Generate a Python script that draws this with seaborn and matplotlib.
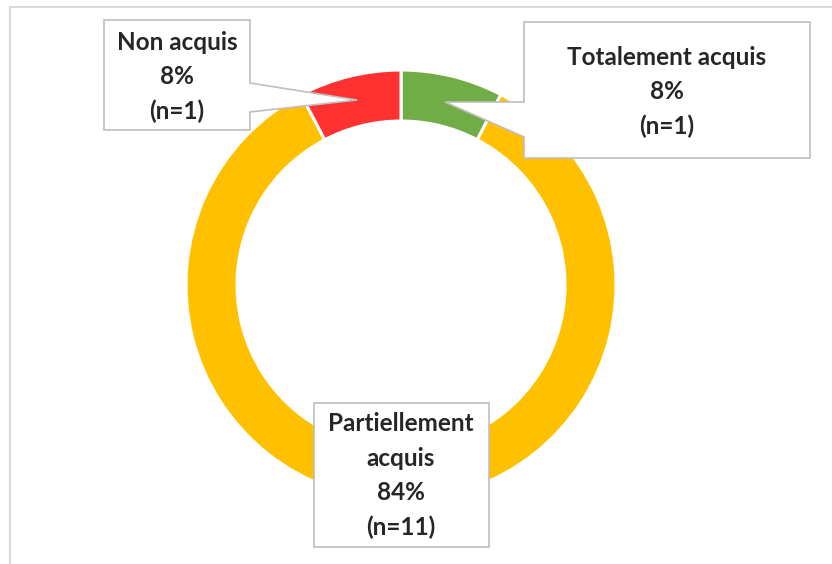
import matplotlib.pyplot as plt
import seaborn as sns
from matplotlib.patches import Polygon, Rectangle

sns.set_theme(style="white")
plt.rcParams['font.family'] = ['Lato', 'DejaVu Sans']

# data
labels = ["Totalement acquis", "Partiellement\nacquis", "Non acquis"]
counts = [1, 11, 1]
percents = [8, 84, 8]
colors = ["#70AD47", "#FFC000", "#FF3131"]

W, H = 832, 564
fig = plt.figure(figsize=(W / 100, H / 100), dpi=100)
ax = fig.add_axes([0, 0, 1, 1])


def py(y):
    # pixel row (from top) -> data y (from bottom)
    return H - y


# donut
cx, cy, r = 401, py(285), 215
ax.pie(counts, colors=colors, startangle=90, counterclock=False,
       center=(cx, cy), radius=r,
       wedgeprops=dict(width=51, edgecolor="white", linewidth=2.2))

# outer chart frame
ax.add_patch(Rectangle((10, -20), W, py(7) + 20, fill=False,
                       edgecolor="#D9D9D9", linewidth=1.5))

box_kw = dict(facecolor="white", edgecolor="#BFBFBF", linewidth=1.2, zorder=5)

# callout for "Totalement acquis"
ax.add_patch(Polygon([(524, py(22)), (810, py(22)), (810, py(158)), (524, py(158)),
                      (524, py(137)), (445, py(102)), (524, py(102))], closed=True, **box_kw))
# callout for "Non acquis"
ax.add_patch(Polygon([(104, py(20)), (250, py(20)), (250, py(83)), (357, py(100)),
                      (250, py(112)), (250, py(130)), (104, py(130))], closed=True, **box_kw))
# box for "Partiellement acquis"
ax.add_patch(Rectangle((314, py(547)), 175, 144, **box_kw))

text_pos = [(667, py(92)), (401, py(476)), (177, py(77))]
for lab, n, p, (tx, ty) in zip(labels, counts, percents, text_pos):
    ax.text(tx, ty, f"{lab}\n{p}%\n(n={n})", ha="center", va="center",
            fontsize=17.5, fontweight="bold", color="#262626",
            linespacing=1.6, zorder=6)

ax.set_xlim(0, W)
ax.set_ylim(0, H)
ax.set_aspect("equal")
ax.axis("off")

fig.savefig("out.png", dpi=100, facecolor="white")
